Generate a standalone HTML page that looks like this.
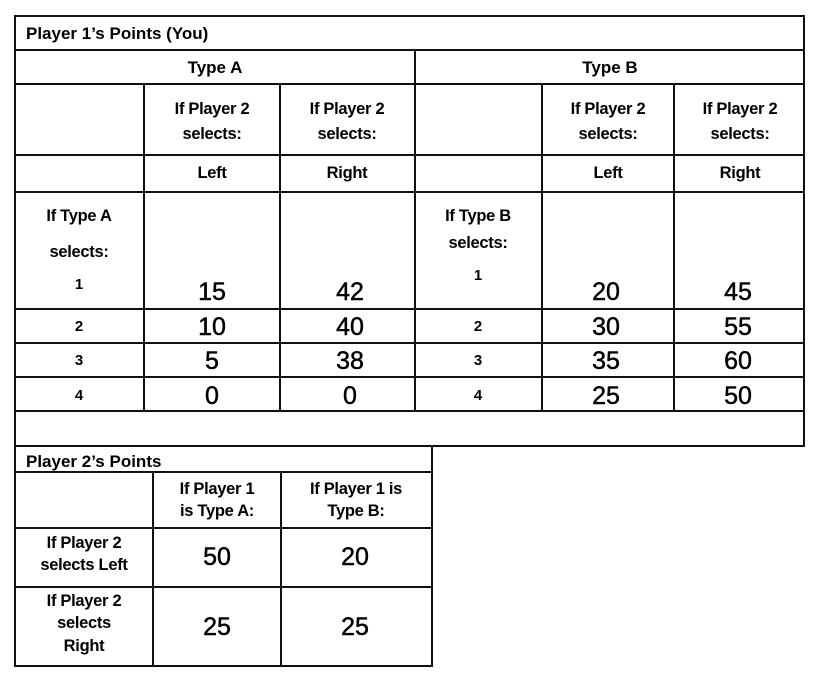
<!DOCTYPE html>
<html><head><meta charset="utf-8"><style>
html,body{margin:0;padding:0;background:#fff;width:820px;height:680px;overflow:hidden}
svg{display:block}
text{font-family:"Liberation Sans",Arial,sans-serif;fill:#000}
.b{font-weight:bold;font-size:17px}
.m{font-size:16.5px;font-weight:bold;letter-spacing:-0.3px}
.n{font-size:25px;stroke:#000;stroke-width:0.5}
.s{font-size:15px;font-weight:bold}
</style></head><body>
<svg width="820" height="680" xmlns="http://www.w3.org/2000/svg">
<g stroke="#111" stroke-width="2" fill="none">
<rect x="15" y="16" width="789" height="430"/>
<line x1="15" y1="50" x2="804" y2="50"/>
<line x1="15" y1="84" x2="804" y2="84"/>
<line x1="15" y1="155" x2="804" y2="155"/>
<line x1="15" y1="192" x2="804" y2="192"/>
<line x1="15" y1="309" x2="804" y2="309"/>
<line x1="15" y1="343" x2="804" y2="343"/>
<line x1="15" y1="377" x2="804" y2="377"/>
<line x1="15" y1="411" x2="804" y2="411"/>
<line x1="415" y1="50" x2="415" y2="411"/>
<line x1="144" y1="84" x2="144" y2="411"/>
<line x1="280" y1="84" x2="280" y2="411"/>
<line x1="542" y1="84" x2="542" y2="411"/>
<line x1="674" y1="84" x2="674" y2="411"/>
<rect x="15" y="446" width="417" height="220"/>
<line x1="15" y1="472" x2="432" y2="472"/>
<line x1="15" y1="528" x2="432" y2="528"/>
<line x1="15" y1="587" x2="432" y2="587"/>
<line x1="153" y1="472" x2="153" y2="666"/>
<line x1="281" y1="472" x2="281" y2="666"/>
</g>
<text class="b" x="26" y="39">Player 1’s Points (You)</text>
<text class="b" x="215" y="73" text-anchor="middle">Type A</text>
<text class="b" x="610" y="73" text-anchor="middle">Type B</text>
<g class="m" text-anchor="middle">
<text x="212" y="114">If Player 2</text><text x="212" y="139">selects:</text>
<text x="347" y="114">If Player 2</text><text x="347" y="139">selects:</text>
<text x="608" y="114">If Player 2</text><text x="608" y="139">selects:</text>
<text x="740" y="114">If Player 2</text><text x="740" y="139">selects:</text>
<text x="212" y="178">Left</text><text x="347" y="178">Right</text>
<text x="608" y="178">Left</text><text x="740" y="178">Right</text>
<text x="79" y="221">If Type A</text><text x="79" y="257">selects:</text>
<text x="478" y="221">If Type B</text><text x="478" y="248">selects:</text>
</g>
<g class="s" text-anchor="middle">
<text x="79" y="289">1</text><text x="79" y="331">2</text><text x="79" y="365">3</text><text x="79" y="400">4</text>
<text x="478" y="280">1</text><text x="478" y="331">2</text><text x="478" y="365">3</text><text x="478" y="400">4</text>
</g>
<g class="n" text-anchor="middle">
<text x="212" y="300">15</text><text x="350" y="300">42</text>
<text x="212" y="335">10</text><text x="350" y="335">40</text>
<text x="212" y="369">5</text><text x="350" y="369">38</text>
<text x="212" y="404">0</text><text x="350" y="404">0</text>
<text x="606" y="300">20</text><text x="738" y="300">45</text>
<text x="606" y="335">30</text><text x="738" y="335">55</text>
<text x="606" y="369">35</text><text x="738" y="369">60</text>
<text x="606" y="404">25</text><text x="738" y="404">50</text>
</g>
<text class="b" x="26" y="467">Player 2’s Points</text>
<g class="m" text-anchor="middle">
<text x="217" y="494">If Player 1</text><text x="217" y="516">is Type A:</text>
<text x="356" y="494">If Player 1 is</text><text x="356" y="516">Type B:</text>
<text x="84" y="548">If Player 2</text><text x="84" y="570">selects Left</text>
<text x="84" y="606">If Player 2</text><text x="84" y="628">selects</text><text x="84" y="651">Right</text>
</g>
<g class="n" text-anchor="middle">
<text x="217" y="565">50</text><text x="355" y="565">20</text>
<text x="217" y="635">25</text><text x="355" y="635">25</text>
</g>
</svg>
</body></html>
